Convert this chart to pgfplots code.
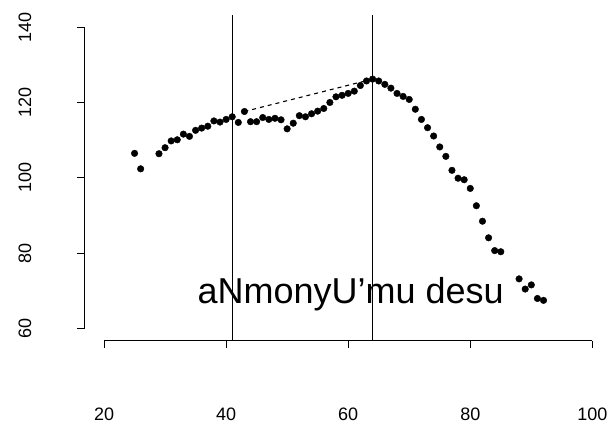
\documentclass[border=0pt]{standalone}
\usepackage{fontspec}
\setmainfont{Liberation Sans}
\usepackage{pgfplots}
\pgfplotsset{compat=1.18}
\begin{document}
\begin{tikzpicture}
\begin{axis}[
  scale only axis,
  width=527.4pt, height=325.7pt,
  xmin=16.8, xmax=103.2, ymin=56.8, ymax=143.2,
  hide axis, clip=false,
  anchor=south west, at={(0pt,0pt)},
]
% bounding area (whole picture)
\path (axis cs:2.957,147.18) rectangle (axis cs:103.22,35.24);
% y axis
\draw[line width=1pt] (axis cs:16.8,60) -- (axis cs:16.8,140);
\draw[line width=1pt] (axis cs:16.8,60) -- ++(-7pt,0pt);
\draw[line width=1pt] (axis cs:16.8,80) -- ++(-7pt,0pt);
\draw[line width=1pt] (axis cs:16.8,100) -- ++(-7pt,0pt);
\draw[line width=1pt] (axis cs:16.8,120) -- ++(-7pt,0pt);
\draw[line width=1pt] (axis cs:16.8,140) -- ++(-7pt,0pt);
\node[rotate=90, anchor=center, font=\fontsize{18}{20}\selectfont] at (axis cs:7.05,60) {60};
\node[rotate=90, anchor=center, font=\fontsize{18}{20}\selectfont] at (axis cs:7.05,80) {80};
\node[rotate=90, anchor=center, font=\fontsize{18}{20}\selectfont] at (axis cs:7.05,100) {100};
\node[rotate=90, anchor=center, font=\fontsize{18}{20}\selectfont] at (axis cs:7.05,120) {120};
\node[rotate=90, anchor=center, font=\fontsize{18}{20}\selectfont] at (axis cs:7.05,140) {140};
% x axis
\draw[line width=1pt] (axis cs:20,56.8) -- (axis cs:100,56.8);
\draw[line width=1pt] (axis cs:20,56.8) -- ++(0pt,-7pt);
\draw[line width=1pt] (axis cs:40,56.8) -- ++(0pt,-7pt);
\draw[line width=1pt] (axis cs:60,56.8) -- ++(0pt,-7pt);
\draw[line width=1pt] (axis cs:80,56.8) -- ++(0pt,-7pt);
\draw[line width=1pt] (axis cs:100,56.8) -- ++(0pt,-7pt);
\node[anchor=base, font=\fontsize{18}{20}\selectfont] at (axis cs:20,35.64) {20};
\node[anchor=base, font=\fontsize{18}{20}\selectfont] at (axis cs:40,35.64) {40};
\node[anchor=base, font=\fontsize{18}{20}\selectfont] at (axis cs:60,35.64) {60};
\node[anchor=base, font=\fontsize{18}{20}\selectfont] at (axis cs:80,35.64) {80};
\node[anchor=base, font=\fontsize{18}{20}\selectfont] at (axis cs:100,35.64) {100};
% vertical reference lines
\addplot[black, line width=1pt] coordinates {(41,56.8) (41,143.2)};
\addplot[black, line width=1pt] coordinates {(64,56.8) (64,143.2)};
% dashed segment
\addplot[black, line width=1.1pt, dash pattern=on 4pt off 4pt] coordinates {(43,117.6) (64,126.2)};
% data points
\addplot[only marks, mark=*, mark size=3.3pt, black] coordinates {
(25,106.5) (26,102.4) (29,106.4) (30,108.0) (31,109.8) (32,110.1) (33,111.6)
(34,111.0) (35,112.6) (36,113.2) (37,113.7) (38,115.1) (39,114.8) (40,115.5)
(41,116.2) (42,114.7) (43,117.6) (44,114.9) (45,114.9) (46,116.0) (47,115.5)
(48,115.8) (49,115.4) (50,113.0) (51,114.5) (52,116.5) (53,116.2) (54,117.0)
(55,117.7) (56,118.4) (57,120.0) (58,121.5) (59,121.9) (60,122.4) (61,123.0)
(62,124.5) (63,125.7) (64,126.2) (65,125.7) (66,124.8) (67,123.8) (68,122.4)
(69,121.6) (70,120.8) (71,118.2) (72,115.5) (73,113.3) (74,111.1) (75,108.2)
(76,105.7) (77,102.0) (78,99.9) (79,99.5) (80,97.2) (81,92.6) (82,88.5)
(83,84.1) (84,80.7) (85,80.4) (88,73.2) (89,70.5) (90,71.6) (91,68.0) (92,67.5)
};
% annotation
\node[anchor=base, font=\fontsize{36}{40}\selectfont] at (axis cs:60.4,66.73) {aNmonyU’mu desu};
\end{axis}
\end{tikzpicture}
\end{document}
